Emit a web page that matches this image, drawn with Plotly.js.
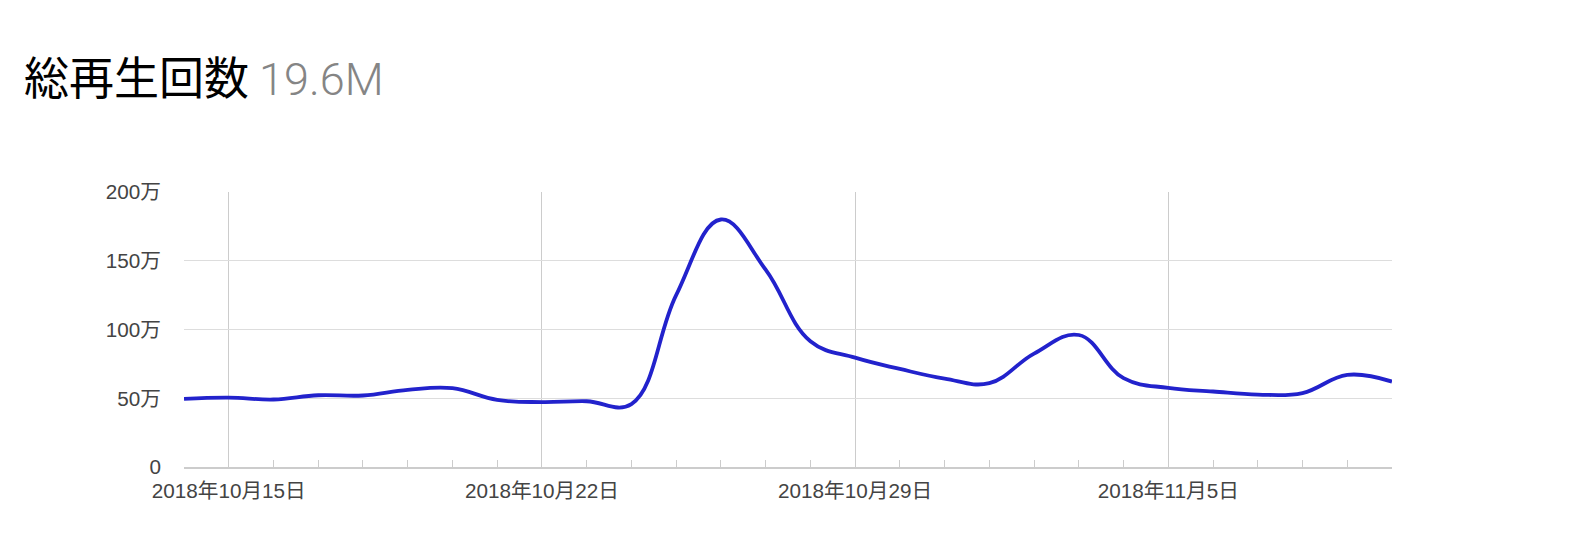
<!DOCTYPE html>
<html>
<head>
<meta charset="utf-8">
<script src="https://cdn.plot.ly/plotly-3.0.1.min.js"></script>
<style>
html,body{margin:0;padding:0;background:#fff;}
#chart{width:1585px;height:544px;}
</style>
</head>
<body>
<div id="chart"></div>
<script>
// Daily views, Oct 14 – Nov 10, 2018
const dates = [
  '2018-10-14','2018-10-15','2018-10-16','2018-10-17','2018-10-18','2018-10-19','2018-10-20',
  '2018-10-21','2018-10-22','2018-10-23','2018-10-24','2018-10-25','2018-10-26','2018-10-27',
  '2018-10-28','2018-10-29','2018-10-30','2018-10-31','2018-11-01','2018-11-02','2018-11-03',
  '2018-11-04','2018-11-05','2018-11-06','2018-11-07','2018-11-08','2018-11-09','2018-11-10'
];
const views = [
  496000, 505000, 491000, 522000, 520000, 561000, 573000,
  488000, 472000, 478000, 458000, 1250000, 1800000, 1435000,
  915000, 795000, 713000, 643000, 610000, 825000, 960000,
  646000, 575000, 549000, 527000, 538000, 670000, 621000
];
const xTickVals = ['2018-10-15','2018-10-22','2018-10-29','2018-11-05'];
const xTickText = ['2018年10月15日','2018年10月22日','2018年10月29日','2018年11月5日'];
const yTickVals = [0, 500000, 1000000, 1500000, 2000000];
const yTickText = ['0','50万','100万','150万','200万'];
const titleMain = '総再生回数';
const titleTotal = '19.6M';

const tickFont = {family: '"Liberation Sans", Arial, "Noto Sans CJK JP", sans-serif', size: 20.7, color: '#444'};

const trace = {
  x: dates,
  y: views,
  type: 'scatter',
  mode: 'lines',
  line: {color: '#2222cc', width: 3.8, shape: 'spline', smoothing: 1.15},
  hoverinfo: 'x+y'
};

const layout = {
  width: 1585,
  height: 544,
  paper_bgcolor: '#fff',
  plot_bgcolor: '#fff',
  margin: {l: 184, r: 192.5, t: 192, b: 77},
  showlegend: false,
  title: {
    text: titleMain + ' <span style="color:#858585;font-family:Roboto,\'Open Sans\',sans-serif;font-weight:300">' + titleTotal + '</span>',
    font: {family: '"Noto Sans CJK JP", sans-serif', size: 45, color: '#000'},
    x: 24/1585, xanchor: 'left',
    xref: 'container', yref: 'container',
    y: 1 - 79/544, yanchor: 'middle'
  },
  xaxis: {
    type: 'date',
    range: [dates[0], dates[dates.length - 1]],
    tickmode: 'array',
    tickvals: xTickVals,
    ticktext: xTickText,
    tickfont: tickFont,
    showgrid: true,
    gridcolor: '#cccccc',
    gridwidth: 1,
    showline: true,
    linecolor: '#cccccc',
    linewidth: 1.5,
    ticks: 'inside',
    ticklen: 7,
    tickcolor: '#cccccc',
    ticklabelstandoff: 5,
    zeroline: false,
    minor: {
      tickmode: 'array',
      tickvals: dates,
      ticks: 'inside',
      ticklen: 7,
      tickcolor: '#cccccc',
      showgrid: false
    },
    fixedrange: true
  },
  yaxis: {
    range: [0, 2000000],
    tickmode: 'array',
    tickvals: yTickVals,
    ticktext: yTickText,
    tickfont: tickFont,
    showgrid: true,
    gridcolor: '#dddddd',
    gridwidth: 1,
    zeroline: false,
    showline: false,
    ticks: '',
    ticklabelstandoff: 22,
    fixedrange: true
  }
};

Plotly.newPlot('chart', [trace], layout, {displayModeBar: false, staticPlot: true});
</script>
</body>
</html>
